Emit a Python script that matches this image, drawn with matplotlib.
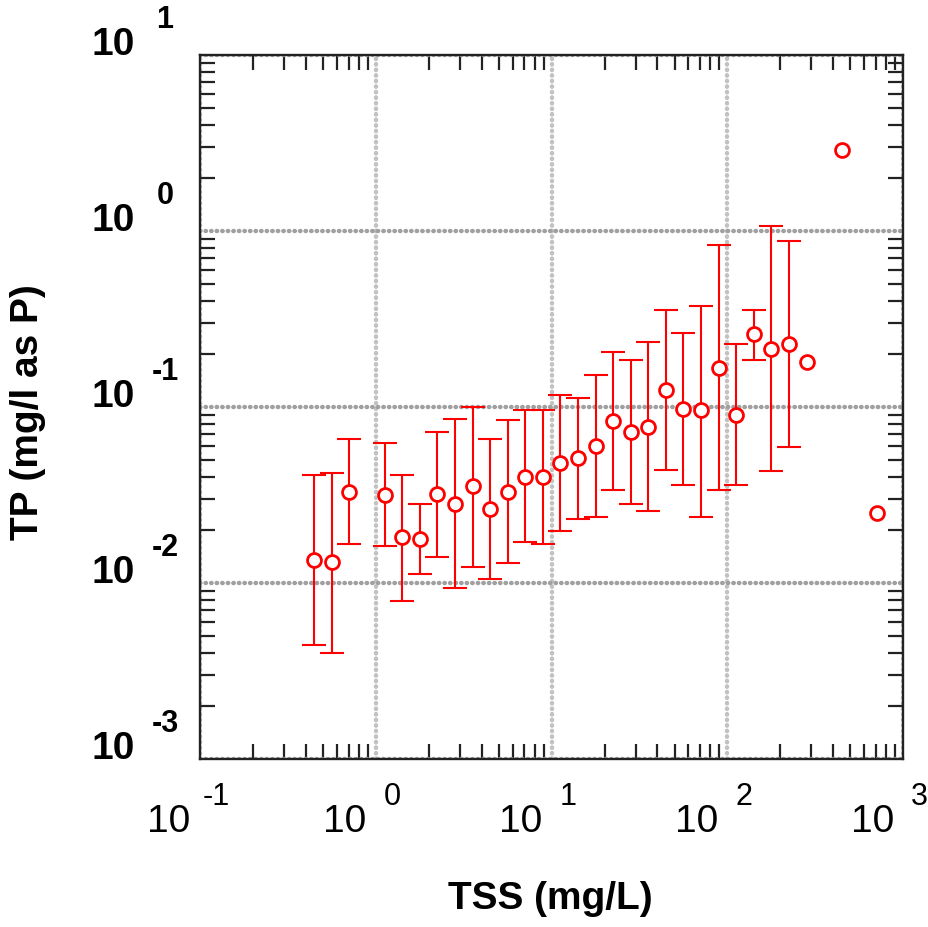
import numpy as np
import matplotlib
matplotlib.use("Agg")
import matplotlib.pyplot as plt
from matplotlib.ticker import LogLocator, NullFormatter
from matplotlib.transforms import offset_copy

# Binned TSS vs TP data
tss = [0.447, 0.562, 0.708, 1.122, 1.413, 1.778, 2.239, 2.818, 3.548, 4.467,
       5.623, 7.079, 8.913, 11.22, 14.13, 17.78, 22.39, 28.18, 35.48, 44.67,
       56.23, 70.79, 89.13, 112.2, 141.3, 177.8, 223.9, 281.8, 446.7, 707.9]
tp = [0.0135, 0.0131, 0.0331, 0.0317, 0.0182, 0.0178, 0.0321, 0.0280, 0.0354, 0.0264,
      0.0328, 0.0401, 0.0400, 0.0481, 0.0513, 0.0598, 0.0832, 0.0722, 0.0769, 0.1256,
      0.0969, 0.0957, 0.166, 0.0907, 0.260, 0.215, 0.228, 0.181, 2.87, 0.0249]
tp_hi = [0.0409, 0.0420, 0.0659, 0.0625, 0.0409, 0.0280, 0.0723, 0.0857, 0.1005, 0.0659,
         0.0843, 0.0957, 0.0957, 0.1165, 0.113, 0.1516, 0.206, 0.186, 0.233, 0.356,
         0.265, 0.376, 0.832, 0.228, 0.356, 1.068, 0.877, np.nan, np.nan, np.nan]
tp_lo = [0.00444, 0.00403, 0.0166, 0.01626, 0.00789, 0.0112, 0.0141, 0.00936, 0.0124, 0.0106,
         0.01294, 0.01706, 0.0166, 0.0198, 0.0231, 0.0236, 0.0336, 0.0283, 0.0255, 0.0440,
         0.0361, 0.0236, 0.0336, 0.0361, 0.186, 0.0431, 0.0596, np.nan, np.nan, np.nan]

x_decades = [-1, 0, 1, 2, 3]
y_decades = [-3, -2, -1, 0, 1]

x = np.array(tss)
y = np.array(tp)
hi = np.array(tp_hi)
lo = np.array(tp_lo)
has_err = ~np.isnan(hi)

fig = plt.figure(figsize=(9.29, 9.28), dpi=100)
ax = fig.add_axes([0.2153, 0.181, 0.757, 0.7586])
ax.set_xscale("log")
ax.set_yscale("log")
ax.set_xlim(1e-1, 1e3)
ax.set_ylim(1e-3, 1e1)

# gridlines at decades (dotted, round dots)
ax.xaxis.grid(True, which="major", color="#c2c2c2", linestyle=(0, (0.1, 1.15)),
              linewidth=3.2, dash_capstyle="round")
ax.yaxis.grid(True, which="major", color="#a0a0a0", linestyle=(0, (0.1, 1.15)),
              linewidth=3.2, dash_capstyle="round")
ax.set_axisbelow(True)

# error bars + open circles
ax.errorbar(x[has_err], y[has_err],
            yerr=[y[has_err] - lo[has_err], hi[has_err] - y[has_err]],
            fmt="none", ecolor="red", elinewidth=1.5, capsize=8.5, capthick=1.5, zorder=3)
ax.plot(x, y, "o", ms=10, mfc="white", mec="red", mew=2.0, zorder=4)

# ticks: minor only, pointing inward on all sides
for axis in (ax.xaxis, ax.yaxis):
    axis.set_major_locator(LogLocator(base=10, numticks=20))
    axis.set_minor_locator(LogLocator(base=10, subs=np.arange(2, 10), numticks=20))
    axis.set_minor_formatter(NullFormatter())
ax.tick_params(which="major", length=0, labelbottom=False, labelleft=False)
ax.tick_params(which="minor", direction="in", length=11, width=1.6, color="#222222",
               top=True, right=True)
for sp in ax.spines.values():
    sp.set_linewidth(1.7)
    sp.set_color("#222222")

# hand-placed "10" + exponent tick labels
xt_base = offset_copy(ax.get_xaxis_transform(), fig=fig, x=-31, y=-72, units="dots")
xt_exp = offset_copy(ax.get_xaxis_transform(), fig=fig, x=16, y=-45, units="dots")
for d in x_decades:
    ax.text(10.0 ** d, 0, "10", transform=xt_base, ha="center", va="baseline",
            fontsize=28, family="Liberation Sans", clip_on=False)
    ax.text(10.0 ** d, 0, str(d), transform=xt_exp, ha="center", va="baseline",
            fontsize=22, family="Liberation Sans", clip_on=False)

yt_base = offset_copy(ax.get_yaxis_transform(), fig=fig, x=-87, y=1, units="dots")
yt_exp = offset_copy(ax.get_yaxis_transform(), fig=fig, x=-35, y=28, units="dots")
for d in y_decades:
    ax.text(0, 10.0 ** d, "10", transform=yt_base, ha="center", va="baseline",
            fontsize=28, fontweight="bold", family="Liberation Sans", clip_on=False)
    ax.text(0, 10.0 ** d, str(d), transform=yt_exp, ha="center", va="baseline",
            fontsize=22, fontweight="bold", family="Liberation Sans", clip_on=False)

fig.text(550 / 929, 1 - 899 / 928, "TSS (mg/L)", ha="center", va="center",
         fontsize=28, fontweight="bold", family="Liberation Sans")
fig.text(28 / 929, 1 - 412 / 928, "TP (mg/l as P)", ha="center", va="center",
         rotation=90, fontsize=28, fontweight="bold", family="Liberation Sans")

fig.savefig("out.png", dpi=100)
